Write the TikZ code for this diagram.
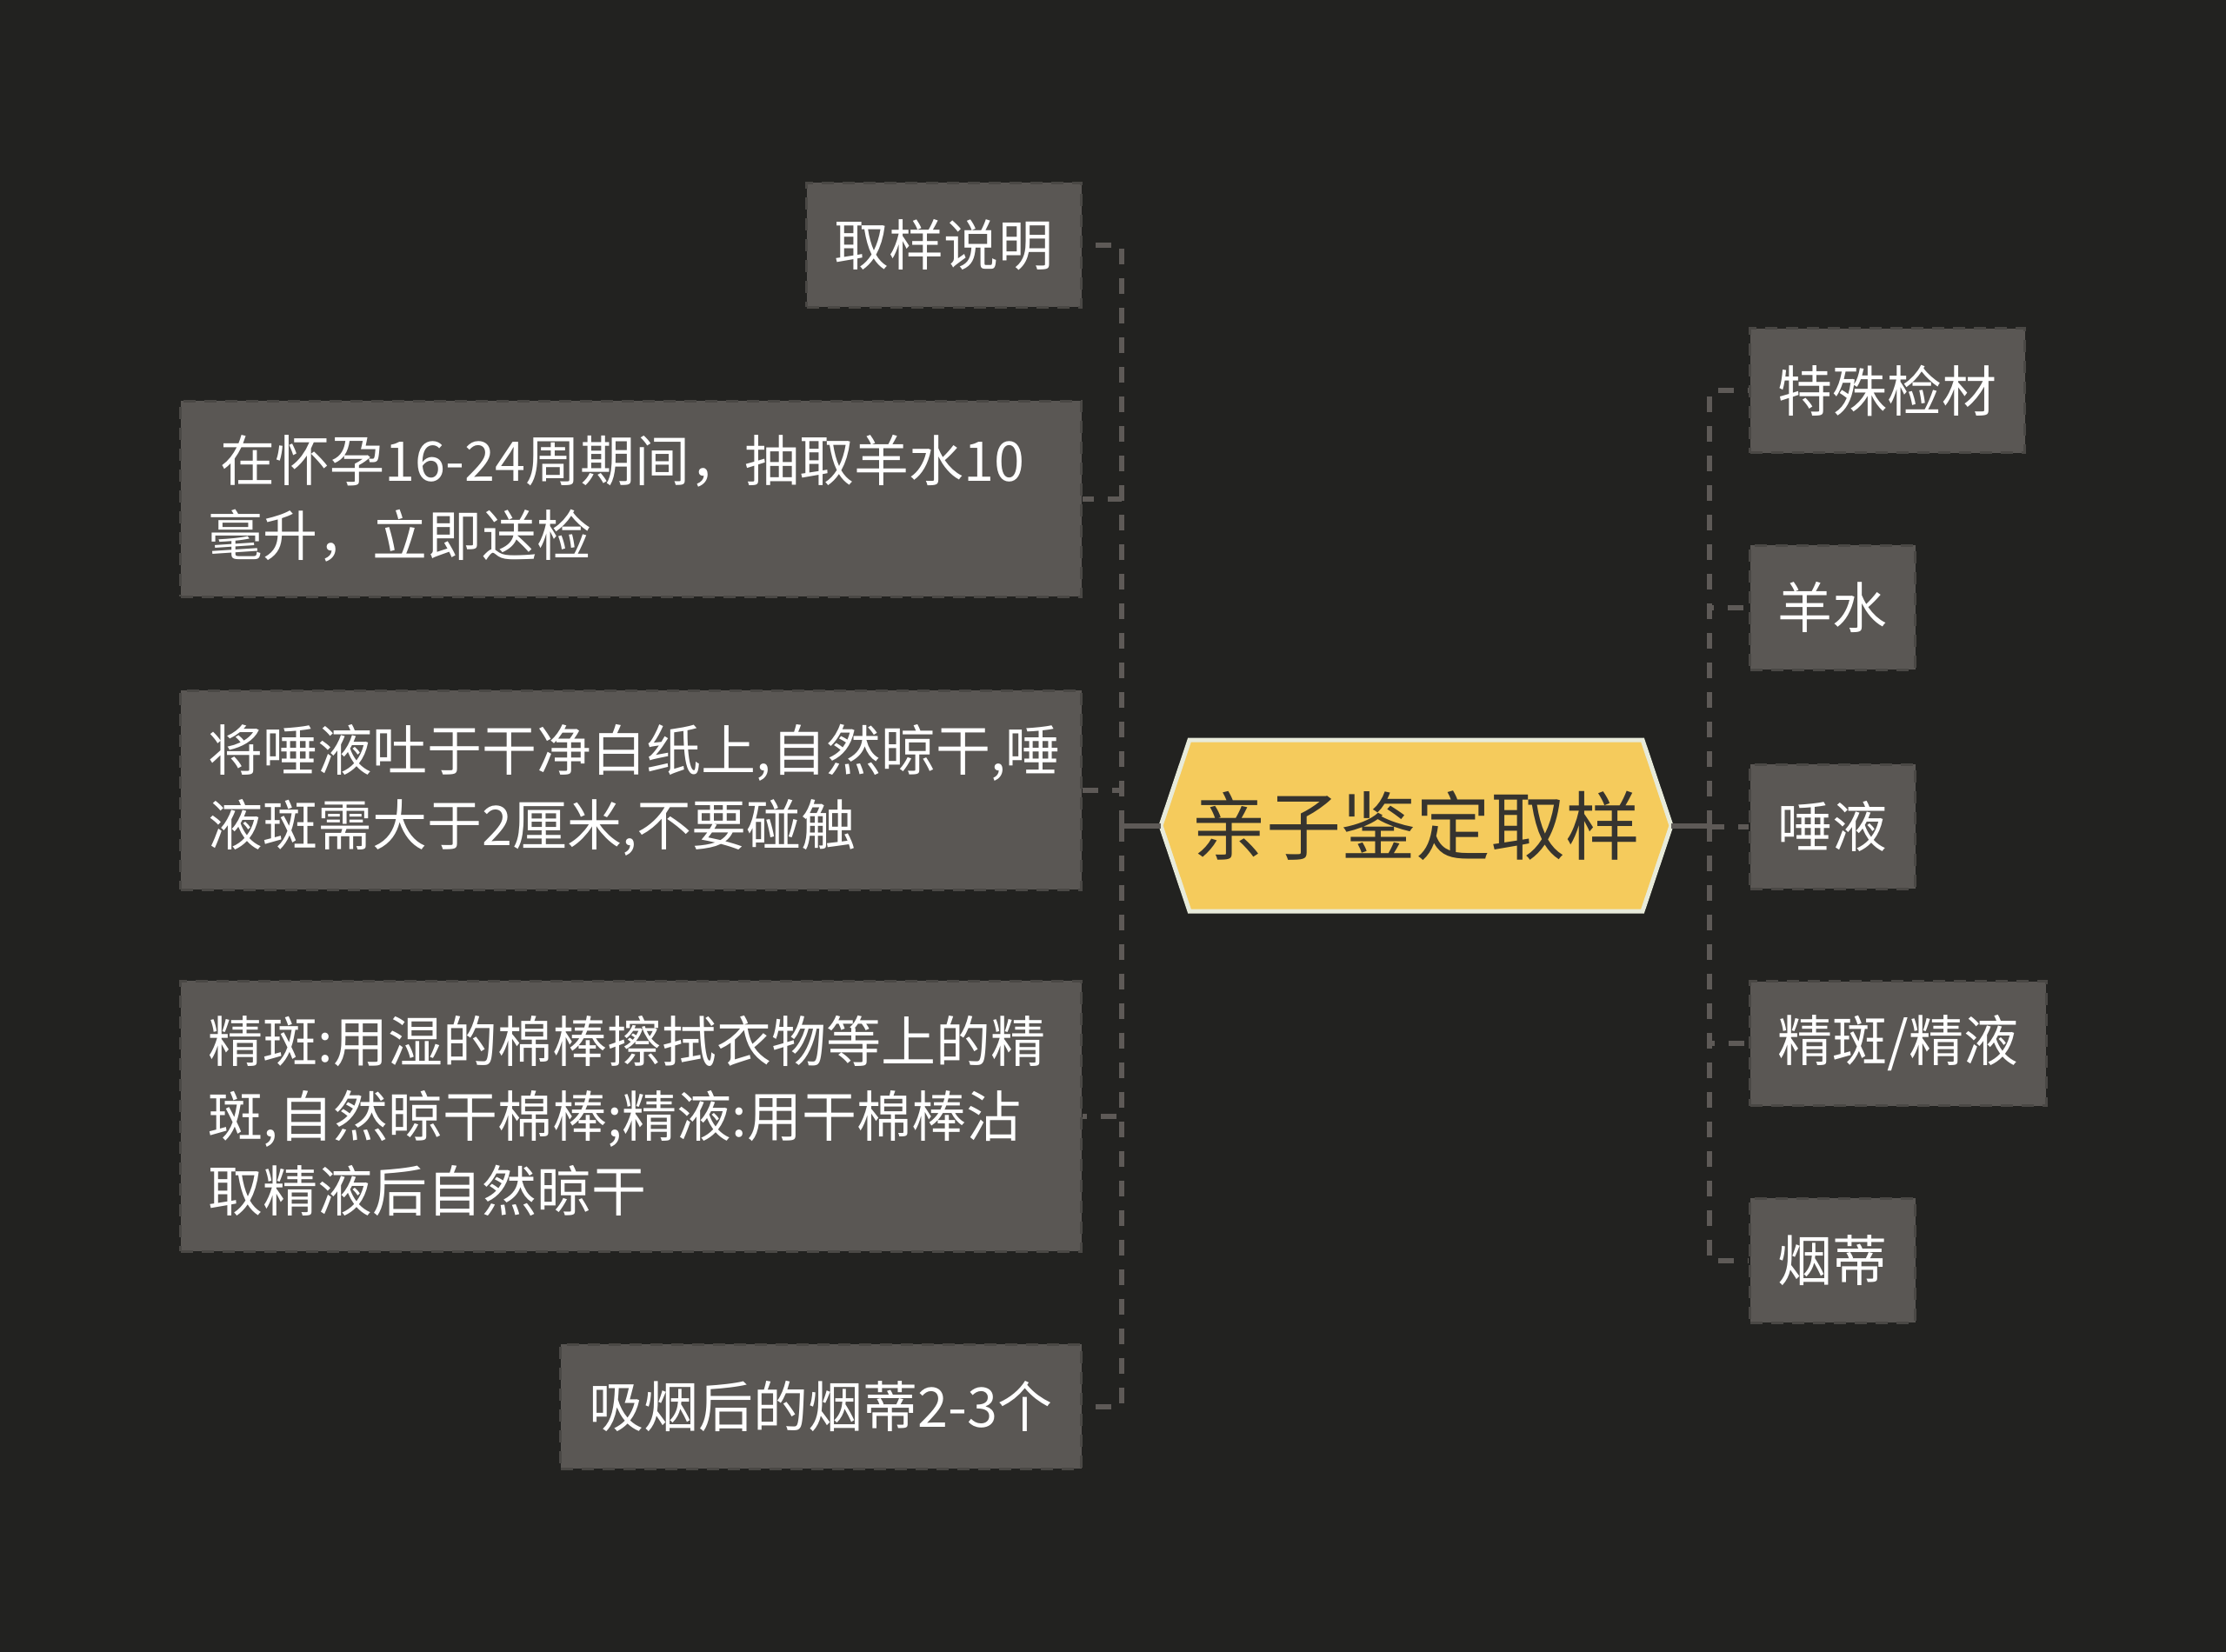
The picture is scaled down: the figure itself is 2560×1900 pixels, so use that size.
\documentclass[tikz,border=0pt]{standalone}
\usepackage{fontspec}
\setmainfont{Noto Sans CJK SC}
\definecolor{bg}{HTML}{222220}
\definecolor{boxfill}{HTML}{5A5754}
\definecolor{boxline}{HTML}{4A4845}
\definecolor{linec}{HTML}{5E5A57}
\definecolor{rootfill}{HTML}{F5CB5C}
\definecolor{rootline}{HTML}{E8EBDA}
\definecolor{roottext}{HTML}{36342F}
\tikzset{
  leaf/.style={rectangle, fill=boxfill, draw=boxline, dash pattern=on 14pt off 10pt,
    line width=3pt, text=white, font=\fontsize{63}{86}\selectfont,
    inner xsep=32pt, inner ysep=0pt, minimum height=143pt},
  multi/.style={leaf, text width=972pt, align=left},
  conn/.style={draw=linec, line width=6pt, dash pattern=on 18pt off 16pt},
  solidconn/.style={draw=linec, line width=6pt},
}
\begin{document}
\begin{tikzpicture}[x=1pt,y=-1pt]
\fill[bg] (0,0) rectangle (2560,1900);
\useasboundingbox (0,0) rectangle (2560,1900);
% root hexagon
\filldraw[fill=rootfill, draw=rootline, line width=5pt, line join=miter]
  (1335,949.5) -- (1368,851) -- (1889,851) -- (1922,949.5) -- (1889,1048) -- (1368,1048) -- cycle;
\node[rectangle, minimum width=587pt, minimum height=197pt, inner sep=0pt,
  text=roottext, font=\fontsize{86}{100}\selectfont] (root) at (1628.5,949.5) {亲子鉴定取样};
% left nodes
\node[leaf, anchor=east, minimum width=312pt] (n1) at (1245,281.5) {取样说明};
\node[multi, anchor=east, minimum height=225pt] (n2) at (1245,573.5)
  {\hspace*{14pt}在怀孕16-24周期间，抽取羊水10\\毫升，立即送检};
\node[multi, anchor=east, minimum height=229pt] (n3) at (1245,908.5)
  {将唾液吐于干净白纸上,自然晾干,唾\\液斑需大于2厘米,不要碰触};
\node[multi, anchor=east, minimum height=311pt] (n4) at (1245,1283.5)
  {精斑:用湿的棉棒擦拭衣物等上的精\\斑,自然晾干棉棒;精液:用干棉棒沾\\取精液后自然晾干};
\node[leaf, anchor=east, minimum width=599pt] (n5) at (1245,1617.5) {吸烟后的烟蒂2-3个};
% right nodes
\node[leaf, anchor=west, minimum width=311pt] (r1) at (2011,449) {特殊检材};
\node[leaf, anchor=west, minimum width=187pt] (r2) at (2011,698.5) {羊水};
\node[leaf, anchor=west, minimum width=187pt] (r3) at (2011,950.5) {唾液};
\node[leaf, anchor=west, minimum width=339pt] (r4) at (2011,1200) {精斑/精液};
\node[leaf, anchor=west, minimum width=187pt] (r5) at (2011,1449.5) {烟蒂};
% connectors
\coordinate (lj) at (1290,949.5);
\coordinate (rj) at (1966,949.5);
\draw[solidconn] (root.west) -- (lj);
\draw[solidconn] (root.east) -- (rj);
\foreach \c in {n1,n2,n3,n4,n5} {\draw[conn] (lj) |- (\c.east);}
\foreach \c in {r1,r2,r3,r4,r5} {\draw[conn] (rj) |- (\c.west);}
\end{tikzpicture}
\end{document}
